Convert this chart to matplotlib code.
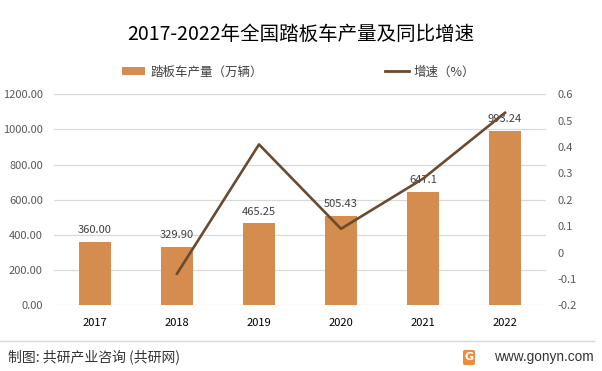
import matplotlib
matplotlib.use("Agg")
import matplotlib.pyplot as plt
from matplotlib.lines import Line2D
from matplotlib.patches import Patch, FancyBboxPatch
import numpy as np

plt.rcParams['font.family'] = ['Noto Sans CJK SC', 'DejaVu Sans']

years = ['2017', '2018', '2019', '2020', '2021', '2022']
production = [360.00, 329.90, 465.25, 505.43, 647.10, 993.24]
production_labels = ['360.00', '329.90', '465.25', '505.43', '647.1', '993.24']
growth_years = ['2018', '2019', '2020', '2021', '2022']
growth = [-0.08, 0.41, 0.09, 0.28, 0.53]
left_ticks = [0, 200, 400, 600, 800, 1000, 1200]
right_ticks = [-0.2, -0.1, 0, 0.1, 0.2, 0.3, 0.4, 0.5, 0.6]
right_tick_labels = ['-0.2', '-0.1', '0', '0.1', '0.2', '0.3', '0.4', '0.5', '0.6']

W, H = 602, 371
fig = plt.figure(figsize=(W / 100, H / 100), dpi=100)
fig.patch.set_facecolor('white')

def fx(px):
    return px / W

def fy(py):
    return 1 - py / H

ax = fig.add_axes([fx(54), fy(305.3), fx(546) - fx(54), fy(94.3) - fy(305.3)])
ax.set_facecolor('none')
x = np.arange(len(years))
bar_color = '#D48C4F'
line_color = '#6B4A2F'

ax.bar(x, production, width=0.40, color=bar_color, zorder=2)
ax.set_xlim(-0.5, len(years) - 0.5)
ax.set_ylim(0, 1200)
ax.set_yticks(left_ticks)
ax.set_yticklabels([f'{v:.2f}' for v in left_ticks])
ax.set_xticks(x)
ax.set_xticklabels(years)
ax.grid(axis='y', color='#D9D9D9', linewidth=0.9, zorder=0)
ax.set_axisbelow(True)
for s in ax.spines.values():
    s.set_visible(False)
ax.tick_params(axis='y', length=0, pad=8, labelsize=8, labelcolor='#595959')
ax.tick_params(axis='x', length=0, pad=9, labelsize=8, labelcolor='#000000')

for xi, v, lab in zip(x, production, production_labels):
    ax.annotate(lab, (xi, v), xytext=(0, 5), textcoords='offset points',
                ha='center', va='bottom', fontsize=8, color='#404040', zorder=4)

ax2 = ax.twinx()
ax2.set_ylim(-0.2, 0.6)
ax2.set_yticks(right_ticks)
ax2.set_yticklabels(right_tick_labels)
for s in ax2.spines.values():
    s.set_visible(False)
ax2.tick_params(axis='y', length=0, pad=8, labelsize=8, labelcolor='#595959')
gx = [years.index(g) for g in growth_years]
ax2.plot(gx, growth, color=line_color, linewidth=1.9, zorder=5)

# title
fig.text(0.5, fy(34), '2017-2022年全国踏板车产量及同比增速', ha='center', va='center',
         fontsize=14, color='#000000')

# legend
handles = [Patch(facecolor=bar_color, edgecolor='none'),
           Line2D([0], [0], color=line_color, linewidth=2)]
fig.legend(handles, ['踏板车产量（万辆）', '增速（%）'], ncol=2, loc='center',
           bbox_to_anchor=(fx(298.5), fy(72)), frameon=False, fontsize=9,
           handlelength=1.9, handleheight=0.6, handletextpad=0.4, columnspacing=9.8,
           borderpad=0, labelcolor='#404040')

# footer
fig.add_artist(Line2D([fx(0), fx(594)], [fy(341), fy(341)], color='#D9D9D9', linewidth=1))
fig.text(fx(8), fy(357), '制图: 共研产业咨询 (共研网)', ha='left', va='center',
         fontsize=10, color='#333333')
fig.text(fx(594), fy(357), 'www.gonyn.com', ha='right', va='center',
         fontsize=9.8, color='#333333', family=['Liberation Sans', 'DejaVu Sans'])
logo = FancyBboxPatch((fx(463), fy(365)), fx(12), fy(350) - fy(365),
                      boxstyle='round,pad=0,rounding_size=0.004', transform=fig.transFigure,
                      facecolor='#F08A3C', edgecolor='none')
fig.add_artist(logo)
fig.text(fx(469), fy(357.5), 'G', ha='center', va='center', fontsize=8, color='white',
         weight='bold', family=['DejaVu Sans'])

fig.savefig('out.png', dpi=100, facecolor='white')
